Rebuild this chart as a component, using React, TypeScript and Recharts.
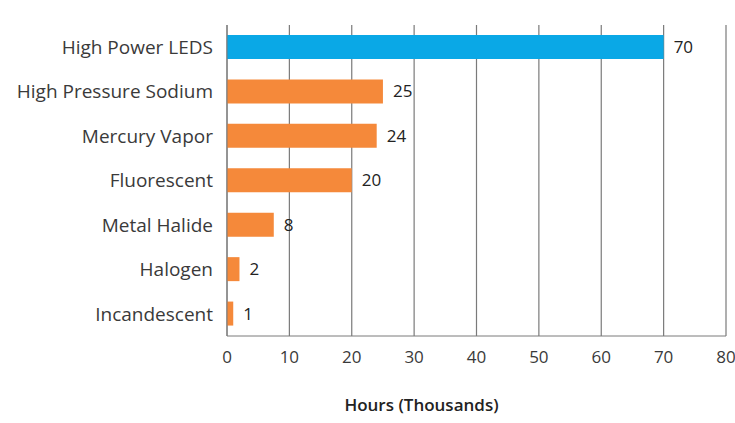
import { BarChart, Bar, XAxis, YAxis, CartesianGrid, Cell, LabelList, Label } from "recharts";

const lamps = [
  "High Power LEDS",
  "High Pressure Sodium",
  "Mercury Vapor",
  "Fluorescent",
  "Metal Halide",
  "Halogen",
  "Incandescent",
];
const hours = [70, 25, 24, 20, 7.5, 2, 1];
const hourLabels = ["70", "25", "24", "20", "8", "2", "1"];
const xTicks = [0, 10, 20, 30, 40, 50, 60, 70, 80];

const BLUE = "#0aa8e6";
const ORANGE = "#f5893a";
const FONT = "'Open Sans', 'Noto Sans', sans-serif";

export default function App() {
  const data = lamps.map((name, i) => ({
    name,
    hours: hours[i],
    label: hourLabels[i],
  }));

  return (
    <div style={{ position: "absolute", left: 0, top: 0, background: "#fff", fontFamily: FONT }}>
      <BarChart
        layout="vertical"
        width={735}
        height={423}
        data={data}
        margin={{ top: 25, right: 9, left: 0, bottom: 0 }}
      >
        <CartesianGrid horizontal={false} stroke="#7a7a7a" strokeWidth={1.2} />
        <XAxis
          type="number"
          domain={[0, 80]}
          ticks={xTicks}
          interval={0}
          tickLine={false}
          axisLine={{ stroke: "#7a7a7a" }}
          tickSize={0}
          tickMargin={15}
          height={87}
          tick={{ fill: "#3a3a3a", fontSize: 17, fontFamily: FONT }}
        >
          <Label
            value="Hours (Thousands)"
            position="insideBottom"
            offset={12}
            dx={-55}
            style={{ fill: "#222", fontSize: 17, fontWeight: 600, fontFamily: FONT }}
          />
        </XAxis>
        <YAxis
          type="category"
          dataKey="name"
          width={227}
          tickLine={false}
          axisLine={{ stroke: "#7a7a7a" }}
          tickSize={0}
          tickMargin={14}
          interval={0}
          tick={{ fill: "#3a3a3a", fontSize: 19, fontFamily: FONT }}
        />
        <Bar dataKey="hours" barSize={24} isAnimationActive={false}>
          {data.map((d, i) => (
            <Cell key={d.name} fill={i === 0 ? BLUE : ORANGE} />
          ))}
          <LabelList
            dataKey="label"
            position="right"
            offset={10}
            style={{ fill: "#222", fontSize: 17, fontFamily: FONT }}
          />
        </Bar>
      </BarChart>
    </div>
  );
}
